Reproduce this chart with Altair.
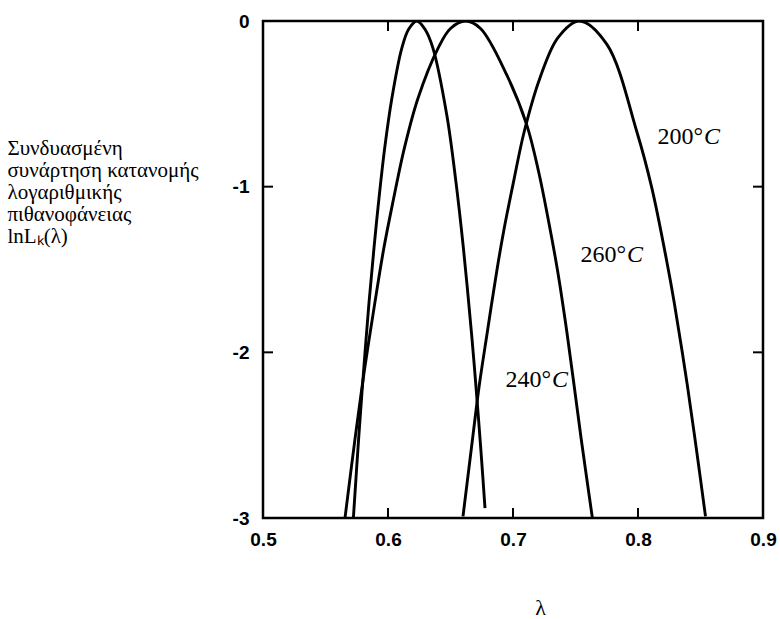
import altair as alt
import pandas as pd

# --- data ---
c200_x = [0.660, 0.668, 0.673, 0.679, 0.687, 0.6925, 0.7005, 0.709, 0.7215, 0.736, 0.753,
          0.775, 0.799, 0.811, 0.823, 0.829, 0.8395, 0.847, 0.854]
c200_y = [-2.99, -2.50, -2.20, -1.90, -1.51, -1.27, -0.968, -0.667, -0.345, -0.10, 0.0,
          -0.14, -0.667, -1.006, -1.45, -1.70, -2.20, -2.60, -2.99]

c260_x = [0.5656, 0.574, 0.5813, 0.5895, 0.5967, 0.604, 0.613, 0.624, 0.640, 0.650, 0.662,
          0.674, 0.695, 0.711, 0.7205, 0.7285, 0.7355, 0.742, 0.748, 0.7545, 0.7635]
c260_y = [-3.0, -2.50, -2.10, -1.70, -1.37, -1.09, -0.77, -0.466, -0.165, -0.045, 0.0,
          -0.045, -0.325, -0.627, -0.91, -1.21, -1.50, -1.82, -2.15, -2.52, -3.0]

c240_x = [0.5723, 0.5767, 0.5806, 0.5848, 0.5888, 0.5925, 0.5973, 0.6031, 0.611, 0.6165, 0.623,
          0.6296, 0.636, 0.647, 0.6543, 0.6603, 0.667, 0.6703, 0.6744, 0.6776]
c240_y = [-3.0, -2.50, -2.10, -1.70, -1.37, -1.09, -0.77, -0.466, -0.165, -0.05, 0.0,
          -0.05, -0.165, -0.566, -0.968, -1.37, -1.90, -2.20, -2.60, -2.94]

label_num = ["200°", "260°", "240°"]
label_x = [0.852, 0.7904, 0.7304]
label_y = [-0.70, -1.41, -2.17]

x_ticks = [0.5, 0.6, 0.7, 0.8, 0.9]
y_ticks = [0, -1, -2, -3]
x_inner_ticks = [0.6, 0.7, 0.8]
y_inner_ticks = [-1, -2]

y_title = ["Συνδυασμένη", "συνάρτηση κατανομής", "λογαριθμικής", "πιθανοφάνειας", "lnLₖ(λ)"]

W, H = 500, 497

rows = []
for name, xs, ys in [("200", c200_x, c200_y), ("260", c260_x, c260_y), ("240", c240_x, c240_y)]:
    for i, (a, b) in enumerate(zip(xs, ys)):
        rows.append({"series": name, "lam": a, "lnL": b, "i": i})
df = pd.DataFrame(rows)
labels = pd.DataFrame({"num": label_num, "lam": label_x, "lnL": label_y, "c": ["C"] * 3})

xscale = alt.Scale(domain=[0.5, 0.9], nice=False, zero=False)
yscale = alt.Scale(domain=[-3, 0], nice=False, zero=False)

lines = alt.Chart(df).mark_line(color="black", strokeWidth=2.9, interpolate="catmull-rom", clip=True).encode(
    x=alt.X("lam:Q", scale=xscale,
            axis=alt.Axis(values=x_ticks, format=".1f", title="λ", labelFlush=False,
                          titleX=277, titleY=89, titleBaseline="middle")),
    y=alt.Y("lnL:Q", scale=yscale,
            axis=alt.Axis(values=y_ticks, format="d", labelFlush=False,
                          labelExpr="replace(datum.label, '−', '-')",
                          title=y_title, titleAngle=0,
                          titleAlign="left", titleBaseline="top", titleX=-256, titleY=116)),
    detail="series:N",
    order="i:Q",
)

num_text = alt.Chart(labels).mark_text(font="Liberation Serif", fontSize=24, align="right",
                                        baseline="middle", color="black").encode(
    x=alt.X("lam:Q", scale=xscale), y=alt.Y("lnL:Q", scale=yscale), text="num:N")
c_text = alt.Chart(labels).mark_text(font="Liberation Serif", fontSize=24, fontStyle="italic",
                                      align="left", baseline="middle", color="black", dx=1).encode(
    x=alt.X("lam:Q", scale=xscale), y=alt.Y("lnL:Q", scale=yscale), text="c:N")

xt = pd.DataFrame({"lam": x_inner_ticks})
yt = pd.DataFrame({"lnL": y_inner_ticks})
tick_bottom = alt.Chart(xt).mark_rule(color="black", strokeWidth=2).encode(
    x=alt.X("lam:Q", scale=xscale), y=alt.value(H), y2=alt.value(H - 10))
tick_top = alt.Chart(xt).mark_rule(color="black", strokeWidth=2).encode(
    x=alt.X("lam:Q", scale=xscale), y=alt.value(0), y2=alt.value(10))
tick_left = alt.Chart(yt).mark_rule(color="black", strokeWidth=2).encode(
    y=alt.Y("lnL:Q", scale=yscale), x=alt.value(0), x2=alt.value(10))
tick_right = alt.Chart(yt).mark_rule(color="black", strokeWidth=2).encode(
    y=alt.Y("lnL:Q", scale=yscale), x=alt.value(W), x2=alt.value(W - 10))

chart = alt.layer(lines, tick_bottom, tick_top, tick_left, tick_right, num_text, c_text).properties(
    width=W, height=H,
    autosize=alt.AutoSizeParams(type="none"),
    padding={"left": 263, "top": 21, "right": 17, "bottom": 101},
    background="white",
).configure_view(
    stroke="black", strokeWidth=2.5
).configure_axis(
    ticks=False, domain=False, grid=False,
    labelFont="Liberation Sans", labelFontWeight="bold", labelFontSize=19, labelColor="black",
    titleFont="Liberation Serif", titleFontWeight="normal", titleColor="black",
).configure_axisX(
    labelPadding=12, titleFontSize=22,
).configure_axisY(
    labelPadding=14, titleFontSize=21, titleLineHeight=22,
)

chart.save("out.html", embed_options={"renderer": "svg", "actions": False})
